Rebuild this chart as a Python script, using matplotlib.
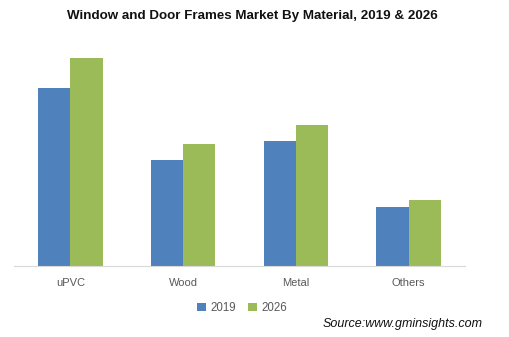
import numpy as np
import matplotlib.pyplot as plt

plt.rcParams['font.family'] = ['Liberation Sans', 'DejaVu Sans']

materials = ['uPVC', 'Wood', 'Metal', 'Others']
values_2019 = [178, 106, 125, 59]
values_2026 = [208, 122, 141, 66]

blue = '#4f81bd'
green = '#9bbb59'

fig = plt.figure(figsize=(5.09, 3.37), dpi=100)
ax = fig.add_axes([14 / 509, 71 / 337, 451 / 509, 220 / 337])

x = np.arange(len(materials))
w = 0.285
ax.bar(x - w / 2, values_2019, w, color=blue, label='2019')
ax.bar(x + w / 2, values_2026, w, color=green, label='2026')

ax.set_xlim(-0.5, 3.5)
ax.set_ylim(0, 220)
ax.set_xticks(x)
ax.set_xticklabels(materials, fontsize=8, color='#595959')
ax.tick_params(axis='x', length=0, pad=9)
ax.set_yticks([])
for s in ['top', 'right', 'left']:
    ax.spines[s].set_visible(False)
ax.spines['bottom'].set_color('#d9d9d9')

fig.text(252 / 509, 1 - 16 / 337, 'Window and Door Frames Market By Material, 2019 & 2026',
         ha='center', va='center', fontsize=9.6, fontweight='bold', color='#111111')

fig.legend(loc='center', bbox_to_anchor=(242 / 509, 1 - 308 / 337), ncol=2, frameon=False,
           fontsize=8.3, handlelength=0.8, handleheight=0.8, handletextpad=0.4, columnspacing=1.0,
           labelcolor='#595959')

fig.text(483 / 509, 1 - 324 / 337, 'Source:www.gminsights.com', ha='right', va='center',
         fontsize=9, fontstyle='italic', color='#111111')

fig.savefig('out.png', dpi=100)
